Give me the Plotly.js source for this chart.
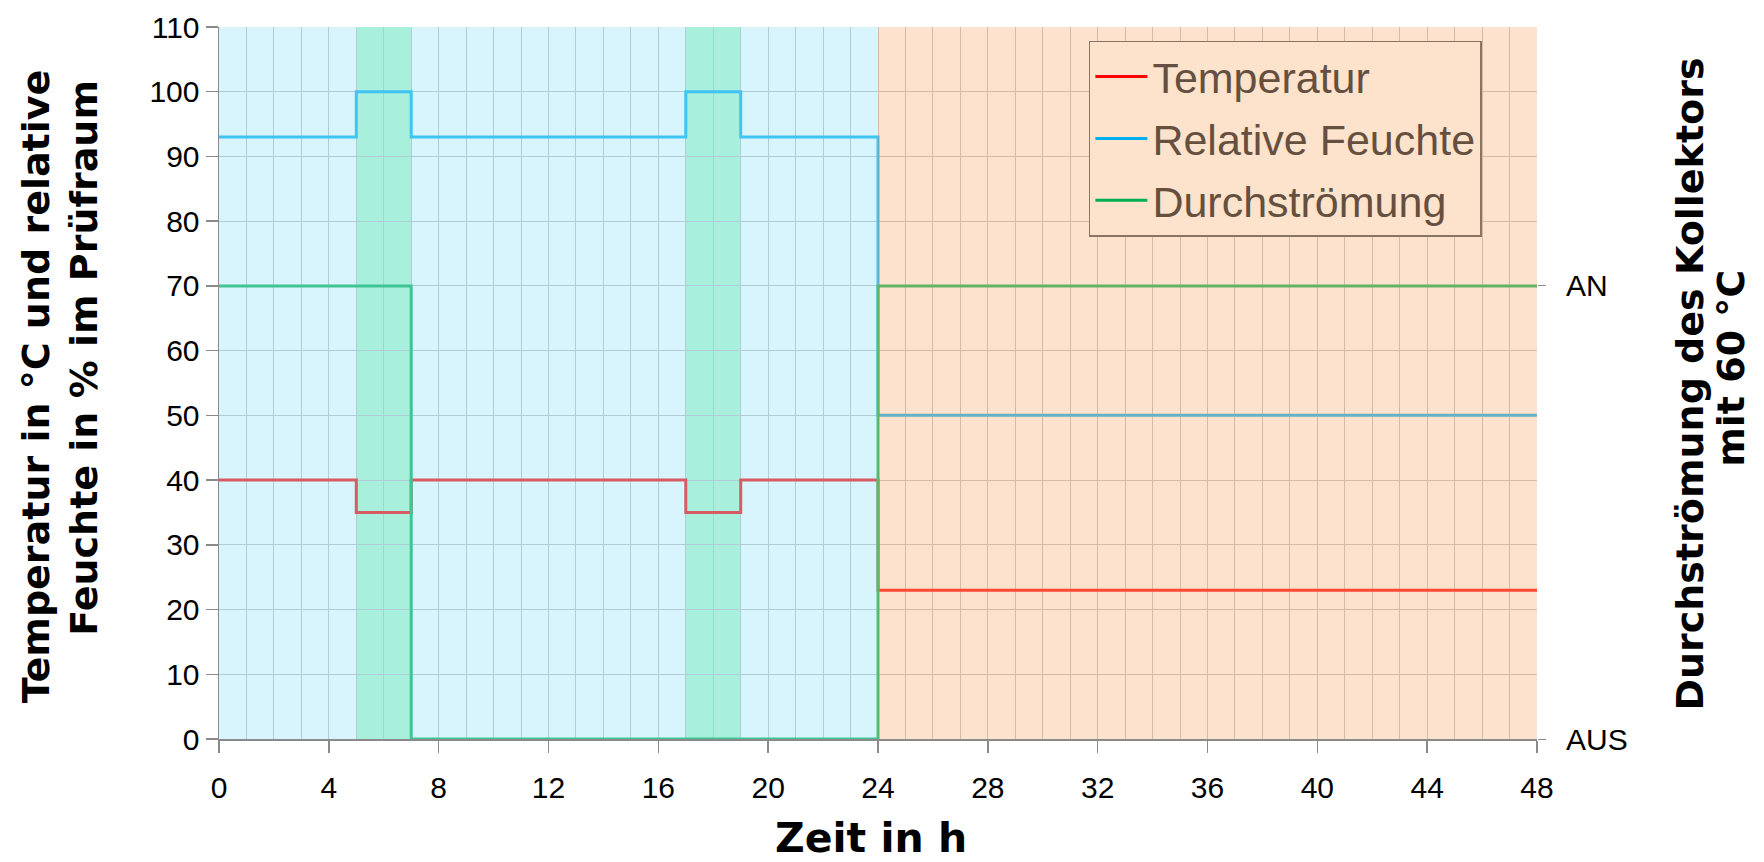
<!DOCTYPE html>
<html>
<head>
<meta charset="utf-8">
<script src="https://cdn.plot.ly/plotly-3.0.1.min.js"></script>
<style>html,body{margin:0;padding:0;background:#fff;}#chart{width:1764px;height:862px;}</style>
</head>
<body>
<div id="chart"></div>
<script>
// Step change times (h)
const stepTimes = [0, 5, 7, 17, 19, 24, 48];
// Temperatur in °C (value holds from each time until the next)
const temperatur = [40, 35, 40, 35, 40, 23, 23];
// Relative Feuchte in %
const relFeuchte = [93, 100, 93, 100, 93, 50, 50];
// Durchströmung (1 = AN, 0 = AUS)
const flowTimes = [0, 7, 24, 48];
const flowState = [1, 0, 1, 1];
// Dew / condensation phases (green bands)
const bandStart = [5, 17];
const bandEnd = [7, 19];
// Test phases: humid phase and dry phase
const phaseStart = [0, 24];
const phaseEnd = [24, 48];
const phaseColor = ['rgba(157,227,247,0.4)', 'rgba(250,182,130,0.4)'];
const xTicks = [0, 4, 8, 12, 16, 20, 24, 28, 32, 36, 40, 44, 48];
const yTicks = [0, 10, 20, 30, 40, 50, 60, 70, 80, 90, 100, 110];
const flowTickVals = [0, 1];
const flowTickText = ['AUS', 'AN'];

const gridCol = '#bcbcbc';
const axisCol = '#8a8a8a';
const tickFont = {family: 'Liberation Sans, Arial, sans-serif', size: 30, color: '#000'};
const titleFont = {family: 'DejaVu Sans, sans-serif', size: 38, color: '#000', weight: 'bold'};

const traces = [
  {x: stepTimes, y: temperatur, name: 'Temperatur', legendgroup: 'a', mode: 'lines', line: {shape: 'hv', color: '#ff0000', width: 3}},
  {x: stepTimes, y: relFeuchte, name: 'Relative Feuchte', legendgroup: 'b', mode: 'lines', line: {shape: 'hv', color: '#00b0f0', width: 3}},
  {x: flowTimes, y: flowState, name: 'Durchströmung', legendgroup: 'c', mode: 'lines', yaxis: 'y2', line: {shape: 'hv', color: '#00b050', width: 3}}
];

const shapes = [];
bandStart.forEach((s, i) => shapes.push({type: 'rect', xref: 'x', yref: 'paper', x0: s, x1: bandEnd[i], y0: 0, y1: 1,
  fillcolor: '#aff7ca', line: {width: 0}, layer: 'below'}));
phaseStart.forEach((s, i) => shapes.push({type: 'rect', xref: 'x', yref: 'paper', x0: s, x1: phaseEnd[i], y0: 0, y1: 1,
  fillcolor: phaseColor[i], line: {width: 0}, layer: 'above'}));

function ann(text, x, y, angle, size) {
  return {text: '<b>' + text + '</b>', xref: 'paper', yref: 'paper', x: x, y: y, xanchor: 'center', yanchor: 'middle',
    textangle: angle, showarrow: false, font: Object.assign({}, titleFont, size ? {size: size} : {})};
}

const layout = {
  width: 1764, height: 862,
  margin: {l: 219, r: 227, t: 27, b: 123},
  paper_bgcolor: '#ffffff', plot_bgcolor: '#ffffff',
  showlegend: true,
  legend: {x: 0.66, y: 0.981, xanchor: 'left', yanchor: 'top', bgcolor: '#fde2cc', bordercolor: '#8c7462', borderwidth: 1.5,
    font: {family: 'Liberation Sans, Arial, sans-serif', size: 43, color: '#65503f'}, tracegroupgap: 3, itemwidth: 52},
  xaxis: {range: [0, 48], tickvals: xTicks, ticks: 'outside', ticklen: 12, tickcolor: axisCol, tickwidth: 1.5,
    showline: true, linecolor: axisCol, linewidth: 1.5, showgrid: true, gridcolor: gridCol, gridwidth: 1,
    minor: {dtick: 1, showgrid: true, gridcolor: gridCol, gridwidth: 1}, zeroline: false, tickfont: tickFont,
    ticklabelstandoff: 9, fixedrange: true},
  yaxis: {range: [0, 110], tickvals: yTicks, ticks: 'outside', ticklen: 12, tickcolor: axisCol, tickwidth: 1.5,
    showline: true, linecolor: axisCol, linewidth: 1.5, showgrid: true, gridcolor: gridCol, gridwidth: 1,
    zeroline: false, tickfont: tickFont, fixedrange: true},
  yaxis2: {overlaying: 'y', side: 'right', range: [0, 110 / 70], tickvals: flowTickVals, ticktext: flowTickText,
    ticks: 'outside', ticklen: 8, tickcolor: axisCol, showgrid: false, zeroline: false, showline: false,
    tickfont: tickFont, ticklabelstandoff: 14, fixedrange: true},
  shapes: shapes,
  annotations: [
    ann('Zeit in h', 0.495, -0.139, 0, 41),
    ann('Temperatur in °C und relative', -0.139, 0.495, -90),
    ann('Feuchte in % im Prüfraum', -0.102, 0.535, -90),
    ann('Durchströmung des Kollektors', 1.116, 0.499, -90),
    ann('mit 60 °C', 1.147, 0.521, -90)
  ]
};

Plotly.newPlot('chart', traces, layout, {displayModeBar: false, staticPlot: true});
</script>
</body>
</html>
